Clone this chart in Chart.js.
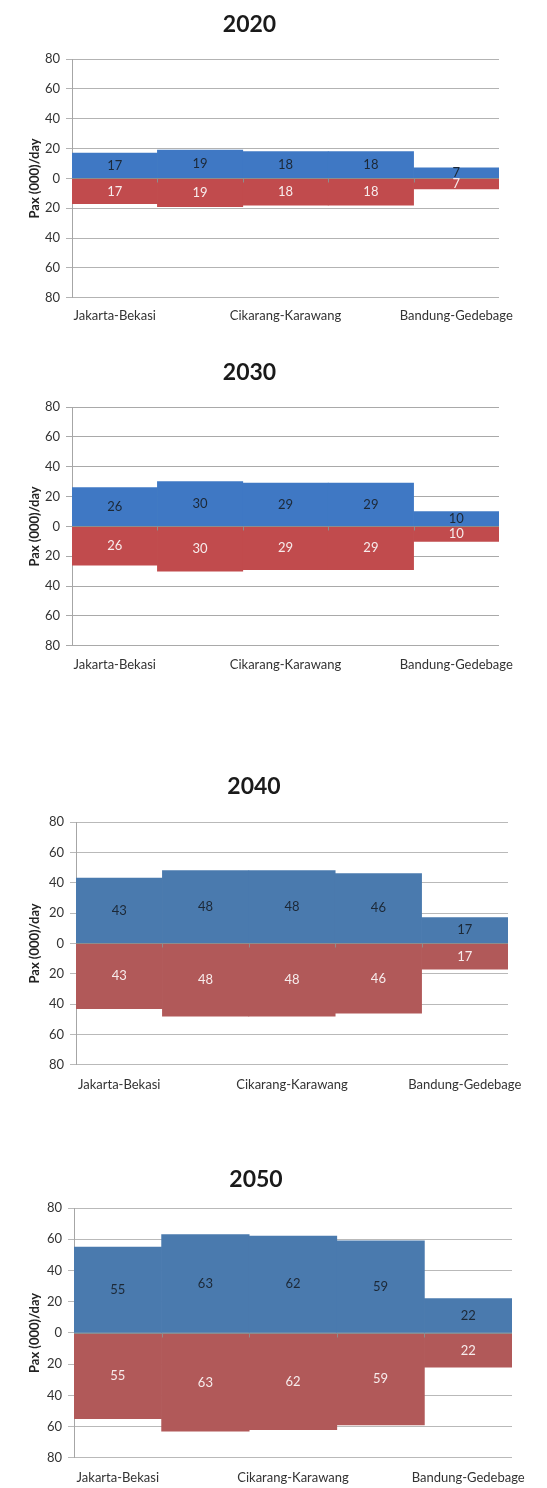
<!DOCTYPE html>
<html>
<head>
<meta charset="utf-8">
<script src="https://cdn.jsdelivr.net/npm/chart.js@4.4.1/dist/chart.umd.min.js"></script>
<style>
  html, body { margin: 0; padding: 0; background: #ffffff; }
  body { width: 547px; height: 1488px; position: relative; overflow: hidden; }
  .panel { position: absolute; left: 0; width: 547px; }
  .panel canvas { display: block; }
  .soft canvas { filter: blur(0.5px); }
</style>
</head>
<body>
<div class="panel soft" id="panel2020"><canvas></canvas></div>
<div class="panel soft" id="panel2030"><canvas></canvas></div>
<div class="panel" id="panel2040"><canvas></canvas></div>
<div class="panel" id="panel2050"><canvas></canvas></div>
<script>
// Line segments (only every other segment carries a printed name on the axis)
const categories = ['Jakarta-Bekasi', '', 'Cikarang-Karawang', '', 'Bandung-Gedebage'];

// Daily passengers (thousands) per segment, one direction above the axis, the other below
const upper2020 = [17, 19, 18, 18, 7];
const lower2020 = [17, 19, 18, 18, 7];
const upper2030 = [26, 30, 29, 29, 10];
const lower2030 = [26, 30, 29, 29, 10];
const upper2040 = [43, 48, 48, 46, 17];
const lower2040 = [43, 48, 48, 46, 17];
const upper2050 = [55, 63, 62, 59, 22];
const lower2050 = [55, 63, 62, 59, 22];

// Y axis: symmetric, magnitudes shown on both sides of zero
const yMin = -80;
const yMax = 80;
const yStep = 20;
const yTitle = 'Pax (000)/day';

const FONT = 'Lato, "Open Sans", "Liberation Sans", sans-serif';

// Panel placement on the page
const panels = [
  { id: 'panel2020', year: '2020', upper: upper2020, lower: lower2020,
    top: 0, titleY: 25, plotTop: 59, plotBottom: 298, left: 72, right: 499, labelY: 316,
    blue: '#3f78c4', red: '#c14b4d', grid: '#b3b3b3' },
  { id: 'panel2030', year: '2030', upper: upper2030, lower: lower2030,
    top: 350, titleY: 373, plotTop: 407, plotBottom: 646, left: 72, right: 499, labelY: 665,
    blue: '#3f78c4', red: '#c14b4d', grid: '#a9a9a9' },
  { id: 'panel2040', year: '2040', upper: upper2040, lower: lower2040,
    top: 770, titleY: 787, plotTop: 822, plotBottom: 1065, left: 76, right: 508, labelY: 1085,
    blue: '#4a7aae', red: '#b15959', grid: '#b9b9b9' },
  { id: 'panel2050', year: '2050', upper: upper2050, lower: lower2050,
    top: 1160, titleY: 1180, plotTop: 1208, plotBottom: 1458, left: 74, right: 512, labelY: 1478,
    blue: '#4a7aae', red: '#b15959', grid: '#b9b9b9' }
];

// Axis line through zero with small marks between segments
const zeroAxisPlugin = {
  id: 'zeroAxis',
  afterDatasetsDraw(chart) {
    const { ctx, chartArea } = chart;
    const xs = chart.scales.x;
    const ys = chart.scales.y;
    const y0 = Math.round(ys.getPixelForValue(0)) + 0.5;
    ctx.save();
    ctx.strokeStyle = '#8d8d8d';
    ctx.lineWidth = 1;
    ctx.beginPath();
    ctx.moveTo(chartArea.left, y0);
    ctx.lineTo(chartArea.right, y0);
    const n = chart.data.labels.length;
    for (let i = 1; i < n; i++) {
      const xb = Math.round((xs.getPixelForValue(i - 1) + xs.getPixelForValue(i)) / 2) + 0.5;
      ctx.moveTo(xb, y0);
      ctx.lineTo(xb, y0 + 4);
    }
    ctx.stroke();
    ctx.restore();
  }
};

// Value printed in the middle of each bar
const barValuePlugin = {
  id: 'barValues',
  afterDatasetsDraw(chart) {
    const { ctx } = chart;
    ctx.save();
    ctx.font = '13px ' + FONT;
    ctx.textAlign = 'center';
    ctx.textBaseline = 'middle';
    chart.data.datasets.forEach((ds, di) => {
      const meta = chart.getDatasetMeta(di);
      ctx.fillStyle = ds.valueColor;
      meta.data.forEach((bar, i) => {
        const v = ds.data[i];
        const cy = (bar.y + bar.base) / 2;
        ctx.fillText(String(Math.abs(v)), bar.x, cy);
      });
    });
    ctx.restore();
  }
};

panels.forEach(p => {
  const xPad = p.labelY - p.plotBottom - 7.8;
  const xHeight = xPad + 18;
  const height = Math.round(p.plotBottom + xHeight - p.top);
  const box = document.getElementById(p.id);
  box.style.top = p.top + 'px';
  box.style.height = height + 'px';
  const canvas = box.querySelector('canvas');
  canvas.width = 547;
  canvas.height = height;
  canvas.style.width = '547px';
  canvas.style.height = height + 'px';

  new Chart(canvas, {
    type: 'bar',
    data: {
      labels: categories,
      datasets: [
        { data: p.upper, backgroundColor: p.blue, borderWidth: 0,
          barPercentage: 1, categoryPercentage: 1, valueColor: '#1c2836' },
        { data: p.lower.map(v => -v), backgroundColor: p.red, borderWidth: 0,
          barPercentage: 1, categoryPercentage: 1, valueColor: '#f7ecec' }
      ]
    },
    options: {
      responsive: false,
      animation: false,
      devicePixelRatio: 1,
      layout: { padding: { left: 0, top: 0, bottom: 0, right: 547 - p.right } },
      plugins: {
        legend: { display: false },
        tooltip: { enabled: false },
        title: {
          display: true,
          text: p.year,
          color: '#1a1a1a',
          font: { family: FONT, size: 23, weight: 'bold', lineHeight: 1.2 },
          padding: { top: p.titleY - p.top - 13.8, bottom: p.plotTop - p.titleY - 13.8 }
        }
      },
      scales: {
        x: {
          stacked: true,
          offset: true,
          grid: { display: false, drawTicks: false },
          border: { display: false },
          ticks: {
            autoSkip: false, maxRotation: 0, minRotation: 0,
            padding: xPad, color: '#333333',
            font: { family: FONT, size: 13, lineHeight: 1.2 }
          },
          afterFit(s) { s.height = xHeight; s.paddingLeft = 0; s.paddingRight = 0; }
        },
        y: {
          stacked: true,
          min: yMin,
          max: yMax,
          ticks: {
            stepSize: yStep,
            padding: 6,
            color: '#333333',
            font: { family: FONT, size: 13 },
            callback: v => String(Math.abs(v))
          },
          grid: { color: p.grid, lineWidth: 1, drawTicks: true, tickLength: 6 },
          border: { display: true, color: '#a6a6a6' },
          title: {
            display: true,
            text: yTitle,
            color: '#222222',
            font: { family: FONT, size: 13, weight: 'bold', lineHeight: 1.2 },
            padding: { top: 27, bottom: 0 }
          },
          afterFit(s) { s.width = p.left; s.paddingTop = 0; s.paddingBottom = 0; }
        }
      }
    },
    plugins: [zeroAxisPlugin, barValuePlugin]
  });
});
</script>
</body>
</html>
